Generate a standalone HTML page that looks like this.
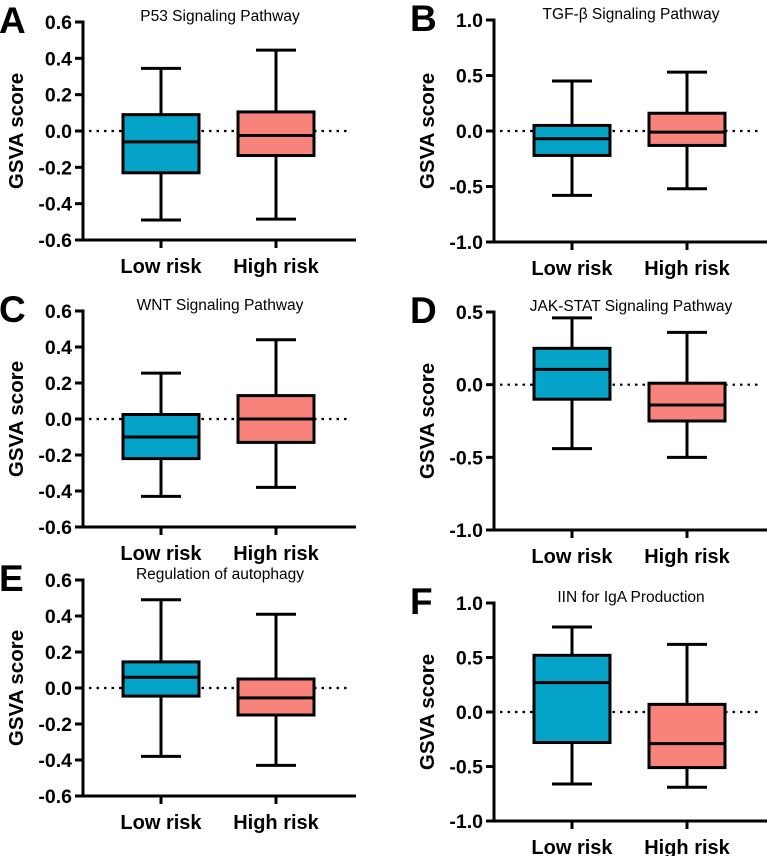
<!DOCTYPE html>
<html><head><meta charset="utf-8"><style>
html,body{margin:0;padding:0;background:#fff;}
svg{display:block;font-family:"Liberation Sans",Arial,sans-serif;}
</style></head><body>
<svg id="chart" width="767" height="856" viewBox="0 0 767 856"></svg>
<script>
const panelLetters = ["A","B","C","D","E","F"];
const panelTitles = ["P53 Signaling Pathway","TGF-\u03B2 Signaling Pathway","WNT Signaling Pathway","JAK-STAT Signaling Pathway","Regulation of autophagy","IIN for IgA Production"];
const categories = ["Low risk","High risk"];
const yMins = [-0.6,-1.0,-0.6,-1.0,-0.6,-1.0];
const yMaxs = [0.6,1.0,0.6,0.5,0.6,1.0];
const yTickLabelsA = ["0.6","0.4","0.2","0.0","-0.2","-0.4","-0.6"];
const yTickLabelsB = ["1.0","0.5","0.0","-0.5","-1.0"];
const yTickLabelsD = ["0.5","0.0","-0.5","-1.0"];
const tickSets = [yTickLabelsA,yTickLabelsB,yTickLabelsA,yTickLabelsD,yTickLabelsA,yTickLabelsB];
// [min, q1, median, q3, max] for Low risk / High risk
const lowRisk = [
 [-0.49,-0.23,-0.06,0.09,0.345],
 [-0.58,-0.22,-0.07,0.05,0.45],
 [-0.43,-0.22,-0.10,0.025,0.255],
 [-0.44,-0.10,0.105,0.25,0.46],
 [-0.38,-0.045,0.06,0.145,0.49],
 [-0.66,-0.28,0.27,0.52,0.78]
];
const highRisk = [
 [-0.485,-0.135,-0.025,0.105,0.445],
 [-0.52,-0.13,-0.01,0.16,0.53],
 [-0.38,-0.13,0.0,0.13,0.44],
 [-0.50,-0.25,-0.14,0.01,0.36],
 [-0.43,-0.15,-0.055,0.05,0.41],
 [-0.69,-0.51,-0.29,0.07,0.62]
];
const colors = ["#05A3C7","#F8837A"];

const NS="http://www.w3.org/2000/svg";
const svg=document.getElementById('chart');
function mk(tag,attrs,parent){const e=document.createElementNS(NS,tag);for(const k in attrs)e.setAttribute(k,attrs[k]);(parent||svg).appendChild(e);return e;}
const layout=[
 {ax:83,top:22,bot:240},{ax:494,top:20,bot:242},
 {ax:83,top:311,bot:527},{ax:494,top:312,bot:530},
 {ax:83,top:580,bot:796},{ax:494,top:603,bot:821}
];
for(let p=0;p<6;p++){
 const L=layout[p];
 const g=mk('g',{});
 
 
 const y=v=>L.bot-(v-yMins[p])/(yMaxs[p]-yMins[p])*(L.bot-L.top);
 const xc=i=>L.ax+78+i*115;
 const lt=mk('text',{x:L.ax-84,y:L.top+11,'font-size':37,'font-weight':'bold'},g);
 lt.textContent=panelLetters[p];
 
 
 const tt=mk('text',{x:L.ax+137,y:L.top-1,'font-size':15.5,'text-anchor':'middle'},g);
 tt.textContent=panelTitles[p];
 
 
 const yt=mk('text',{x:0,y:0,'font-size':20.5,'font-weight':'bold','text-anchor':'middle',transform:`translate(${L.ax-60},${(L.top+L.bot)/2}) rotate(-90)`},g);
 yt.textContent="GSVA score";
 
 
 const zl=mk('line',{x1:L.ax+6,x2:L.ax+268,y1:y(0),y2:y(0),stroke:'#000','stroke-width':2.2,'stroke-dasharray':'2.5 5'},g);
 
 
 tickSets[p].forEach(t=>{
  const v=parseFloat(t);
  const tk=mk('line',{x1:L.ax-8,x2:L.ax,y1:y(v),y2:y(v),stroke:'#000','stroke-width':3},g);
  
  
  const tl=mk('text',{x:L.ax-11,y:y(v)+7,'font-size':19.5,'font-weight':'bold','text-anchor':'end'},g);
  tl.textContent=t;
  
  
 });
 [lowRisk[p],highRisk[p]].forEach((d,i)=>{
  const cx=xc(i);
  const bg=mk('g',{},g);
  
  
  mk('line',{x1:cx,x2:cx,y1:y(d[0]),y2:y(d[4]),stroke:'#000','stroke-width':3},bg);
  mk('line',{x1:cx-20,x2:cx+20,y1:y(d[0]),y2:y(d[0]),stroke:'#000','stroke-width':3},bg);
  mk('line',{x1:cx-20,x2:cx+20,y1:y(d[4]),y2:y(d[4]),stroke:'#000','stroke-width':3},bg);
  mk('rect',{x:cx-38,y:y(d[3]),width:76,height:y(d[1])-y(d[3]),fill:colors[i],stroke:'#000','stroke-width':3},bg);
  mk('line',{x1:cx-38,x2:cx+38,y1:y(d[2]),y2:y(d[2]),stroke:'#000','stroke-width':3},bg);
  const xt=mk('line',{x1:cx,x2:cx,y1:L.bot,y2:L.bot+8,stroke:'#000','stroke-width':3},g);
  
  
  const xl=mk('text',{x:cx,y:L.bot+33,'font-size':20,'font-weight':'bold','text-anchor':'middle'},g);
  xl.textContent=categories[i];
  
  
 });
 const ya=mk('line',{x1:L.ax,x2:L.ax,y1:L.top-1.5,y2:L.bot+1.5,stroke:'#000','stroke-width':3},g);
 
 
 const xa=mk('line',{x1:L.ax,x2:L.ax+273,y1:L.bot,y2:L.bot,stroke:'#000','stroke-width':3},g);
 
 
}
</script>
</body></html>
